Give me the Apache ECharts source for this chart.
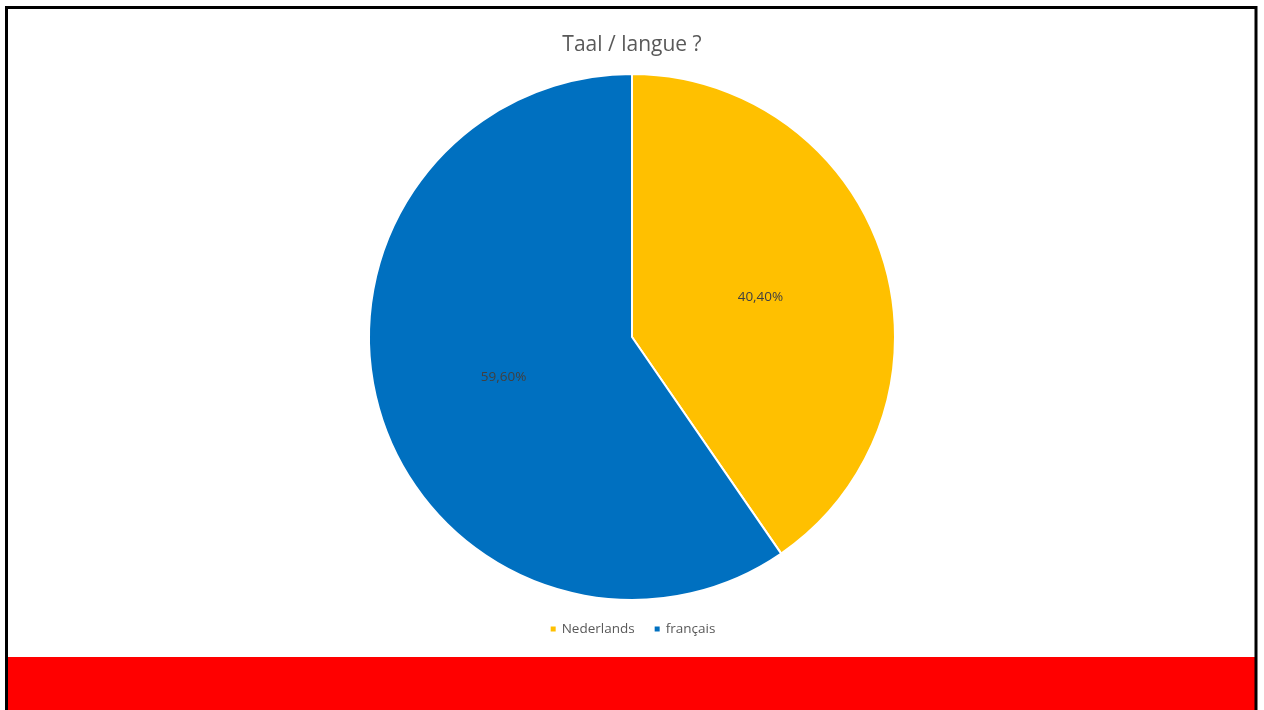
<!DOCTYPE html>
<html>
<head>
<meta charset="utf-8">
<script src="https://cdn.jsdelivr.net/npm/echarts@6/dist/echarts.min.js"></script>
<style>
  html, body { margin: 0; padding: 0; background: #ffffff; }
  #chart { width: 1264px; height: 710px; }
</style>
</head>
<body>
<div id="chart"></div>
<script>
// Language split of respondents
const categories = ['Nederlands', 'français'];
const shares = [40.40, 59.60];
const colors = ['#FFC000', '#0070C0'];
const titleText = 'Taal / langue ?';

const chart = echarts.init(document.getElementById('chart'), null, { renderer: 'canvas' });

const pieData = categories.map((name, i) => ({
  name: name,
  value: shares[i],
  itemStyle: { color: colors[i] }
}));

const fmt = v => v.toFixed(2).replace('.', ',') + '%';

chart.setOption({
  backgroundColor: '#ffffff',
  animation: false,
  title: {
    text: titleText,
    left: 'center',
    top: 30,
    textStyle: {
      fontFamily: 'Open Sans',
      fontSize: 21,
      fontWeight: 'normal',
      color: '#595959'
    }
  },
  legend: {
    data: categories,
    left: 'center',
    top: 617,
    icon: 'rect',
    itemWidth: 7,
    itemHeight: 7,
    itemGap: 18,
    textStyle: {
      fontFamily: 'Open Sans',
      fontSize: 13.5,
      color: '#595959'
    }
  },
  graphic: [
    {
      type: 'rect',
      shape: { x: 7, y: 657, width: 1249, height: 53 },
      style: { fill: '#FF0000' },
      z: 10
    },
    {
      type: 'rect',
      shape: { x: 6.5, y: 7.5, width: 1249.5, height: 705 },
      style: { fill: 'none', stroke: '#000000', lineWidth: 3 },
      z: 11
    }
  ],
  series: [
    {
      type: 'pie',
      center: [632, 337],
      radius: [0, 263],
      startAngle: 90,
      clockwise: true,
      data: pieData,
      itemStyle: { borderColor: '#ffffff', borderWidth: 2 },
      label: {
        position: 'inside',
        formatter: p => fmt(p.value),
        fontFamily: 'Open Sans',
        fontSize: 13.5,
        color: '#404040'
      },
      labelLine: { show: false },
      emphasis: { disabled: true }
    }
  ]
});
</script>
</body>
</html>
